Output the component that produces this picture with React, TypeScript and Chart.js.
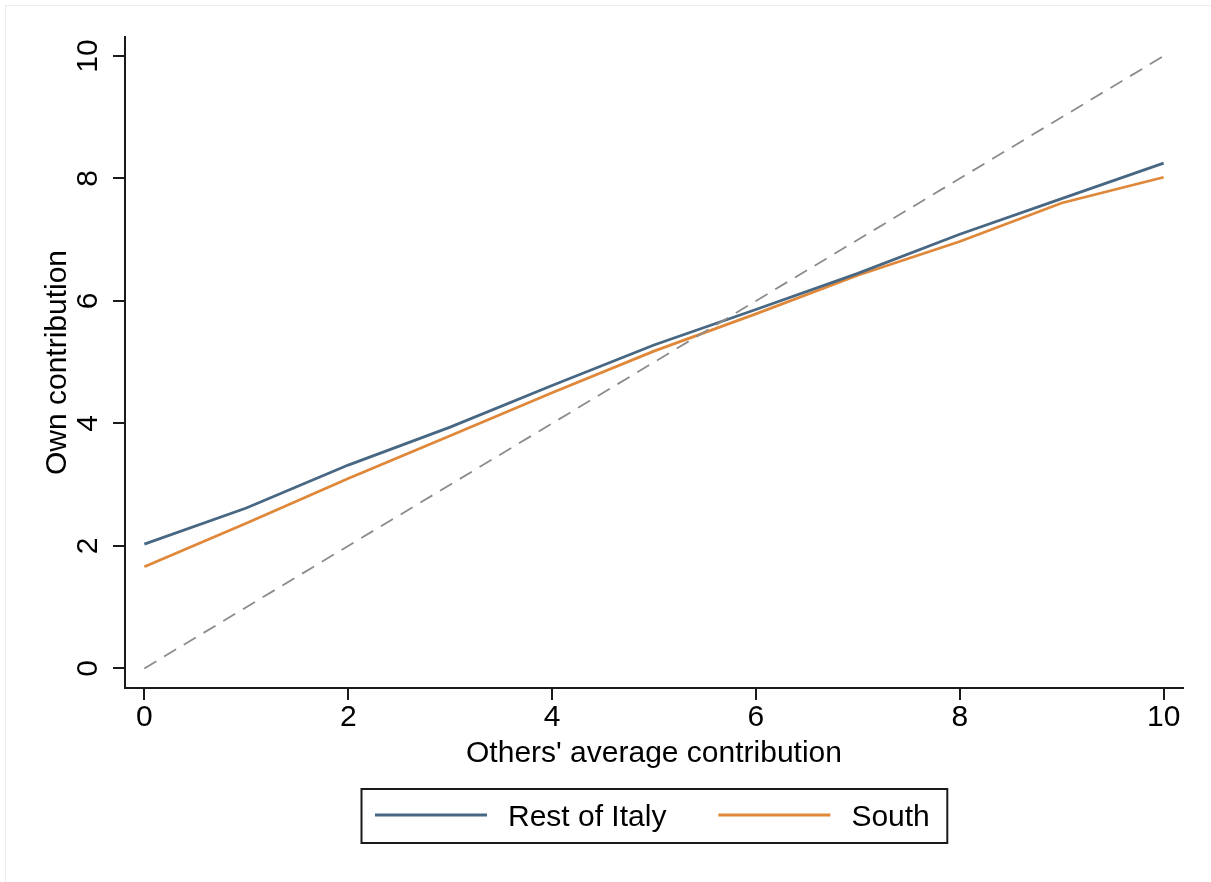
import React, { useEffect, useRef } from "react";
import { Chart, registerables } from "chart.js";

Chart.register(...registerables);

// ---- data ----
const xValues = [0, 1, 2, 3, 4, 5, 6, 7, 8, 9, 10];
const restOfItaly = [2.03, 2.62, 3.32, 3.94, 4.62, 5.28, 5.86, 6.45, 7.09, 7.67, 8.25];
const south = [1.66, 2.37, 3.1, 3.8, 4.5, 5.18, 5.79, 6.42, 6.97, 7.6, 8.02];
const diagX = [0, 10];
const diagY = [0, 10];
const tickValues = [0, 2, 4, 6, 8, 10];
const seriesLabels = ["Rest of Italy", "South"];
const xTitle = "Others' average contribution";
const yTitle = "Own contribution";

const BLUE = "#476782";
const ORANGE = "#E0883A";
const GRAY = "#8c8c8c";
const AXIS = "#1a1a1a";
const FONT = "'Liberation Sans', Arial, Helvetica, sans-serif";

const frameLegendPlugin = {
  id: "frameLegend",
  beforeDraw(chart: any) {
    const ctx = chart.ctx;
    ctx.save();
    ctx.fillStyle = "#ffffff";
    ctx.fillRect(0, 0, chart.width, chart.height);
    ctx.strokeStyle = "#ececec";
    ctx.lineWidth = 1;
    ctx.strokeRect(5.5, 5.5, chart.width + 20, chart.height + 20);
    ctx.restore();
  },
  afterDraw(chart: any) {
    const ctx = chart.ctx;
    const area = chart.chartArea;
    const items = chart.data.datasets.filter((d: any) => seriesLabels.includes(d.label));
    ctx.save();
    ctx.font = `30px ${FONT}`;
    const padL = 14, padR = 17, lineLen = 112, gap = 21, spacing = 52;
    const widths = items.map((d: any) => ctx.measureText(d.label).width);
    let total = padL + padR;
    items.forEach((d: any, i: number) => {
      total += lineLen + gap + widths[i];
      if (i > 0) total += spacing;
    });
    const cx = (area.left + area.right) / 2;
    const left = Math.round(cx - total / 2);
    const top = 789;
    const h = 54;
    ctx.strokeStyle = AXIS;
    ctx.lineWidth = 2;
    ctx.strokeRect(left + 0.5, top, total, h);
    const midY = top + h / 2;
    let x = left + padL;
    items.forEach((d: any, i: number) => {
      ctx.strokeStyle = d.borderColor;
      ctx.lineWidth = 3;
      ctx.beginPath();
      ctx.moveTo(x, midY - 1);
      ctx.lineTo(x + lineLen, midY - 1);
      ctx.stroke();
      x += lineLen + gap;
      ctx.fillStyle = "#000";
      ctx.textBaseline = "middle";
      ctx.textAlign = "left";
      ctx.fillText(d.label, x, midY + 2);
      x += widths[i] + spacing;
    });
    ctx.restore();
  },
};

export default function App() {
  const ref = useRef<HTMLCanvasElement>(null);

  useEffect(() => {
    if (!ref.current) return;
    Chart.defaults.font.family = FONT;
    const chart = new Chart(ref.current, {
      type: "line",
      data: {
        datasets: [
          {
            label: "diag",
            data: diagX.map((x, i) => ({ x, y: diagY[i] })),
            borderColor: GRAY,
            borderWidth: 1.8,
            borderDash: [14, 9],
            pointRadius: 0,
            fill: false,
          },
          {
            label: seriesLabels[0],
            data: xValues.map((x, i) => ({ x, y: restOfItaly[i] })),
            borderColor: BLUE,
            borderWidth: 2.8,
            pointRadius: 0,
            fill: false,
          },
          {
            label: seriesLabels[1],
            data: xValues.map((x, i) => ({ x, y: south[i] })),
            borderColor: ORANGE,
            borderWidth: 2.8,
            pointRadius: 0,
            fill: false,
          },
        ],
      },
      options: {
        animation: false,
        responsive: false,
        devicePixelRatio: 1,
        layout: { padding: { left: 0, top: 37, right: 28, bottom: 110 } },
        plugins: {
          legend: { display: false },
          tooltip: { enabled: false },
        },
        scales: {
          x: {
            type: "linear",
            min: -0.19,
            max: 10.19,
            afterBuildTicks: (s: any) => {
              s.ticks = tickValues.map((v) => ({ value: v }));
            },
            afterFit: (s: any) => {
              s.height = 84;
            },
            ticks: {
              font: { size: 30 },
              color: "#000",
              padding: 0,
              maxRotation: 0,
              minRotation: 0,
              callback: (v: any) => String(v),
            },
            grid: {
              display: true,
              drawOnChartArea: false,
              drawTicks: true,
              tickLength: 12,
              color: AXIS,
              lineWidth: 2,
            },
            border: { display: true, color: AXIS, width: 2 },
            title: {
              display: true,
              text: xTitle,
              color: "#000",
              font: { size: 30 },
              padding: { top: 0, bottom: 0 },
            },
          },
          y: {
            type: "linear",
            min: -0.32,
            max: 10.31,
            afterBuildTicks: (s: any) => {
              s.ticks = tickValues.map((v) => ({ value: v }));
            },
            afterFit: (s: any) => {
              s.width = 125;
            },
            ticks: {
              font: { size: 30 },
              color: "#000",
              padding: 8,
              minRotation: 90,
              maxRotation: 90,
              crossAlign: "center",
              callback: (v: any) => String(v),
            },
            grid: {
              display: true,
              drawOnChartArea: false,
              drawTicks: true,
              tickLength: 12,
              color: AXIS,
              lineWidth: 2,
            },
            border: { display: true, color: AXIS, width: 2 },
            title: {
              display: true,
              text: yTitle,
              color: "#000",
              font: { size: 30 },
              padding: { top: 40, bottom: 0 },
            },
          },
        },
      },
      plugins: [frameLegendPlugin],
    } as any);
    return () => chart.destroy();
  }, []);

  return (
    <div style={{ position: "absolute", left: 0, top: 0, width: 1211, height: 882 }}>
      <canvas ref={ref} width={1211} height={882} style={{ width: 1211, height: 882 }} />
    </div>
  );
}
